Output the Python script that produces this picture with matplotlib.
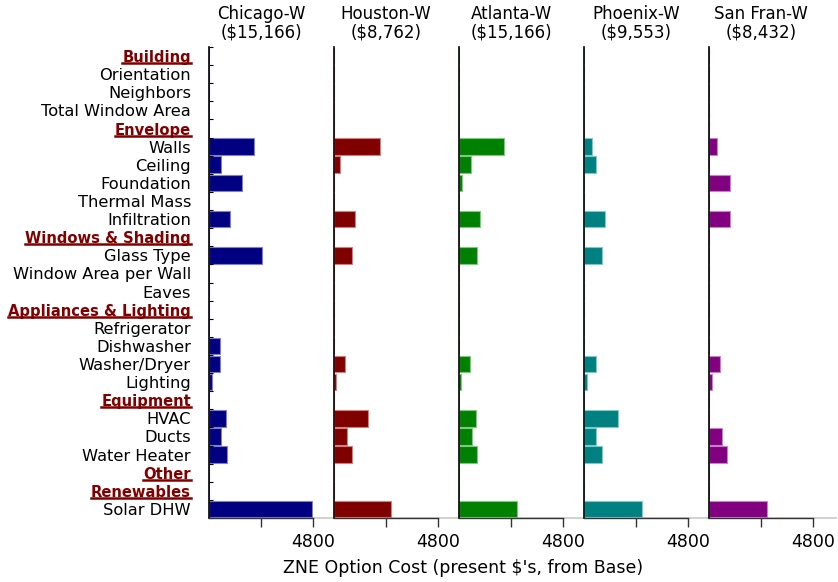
import numpy as np
import matplotlib.pyplot as plt
from matplotlib.lines import Line2D

# row labels, top to bottom; section headers are flagged
labels = ["Building", "Orientation", "Neighbors", "Total Window Area",
          "Envelope", "Walls", "Ceiling", "Foundation", "Thermal Mass", "Infiltration",
          "Windows & Shading", "Glass Type", "Window Area per Wall", "Eaves",
          "Appliances & Lighting", "Refrigerator", "Dishwasher", "Washer/Dryer", "Lighting",
          "Equipment", "HVAC", "Ducts", "Water Heater",
          "Other", "Renewables", "Solar DHW"]
headers = ["Building", "Envelope", "Windows & Shading", "Appliances & Lighting",
           "Equipment", "Other", "Renewables"]

cities = ["Chicago-W", "Houston-W", "Atlanta-W", "Phoenix-W", "San Fran-W"]
totals = ["$15,166", "$8,762", "$15,166", "$9,553", "$8,432"]
colors = ["#000080", "#800000", "#008000", "#008080", "#800080"]
edges = ["#8080c8", "#d08080", "#80c880", "#80c8c8", "#c880c8"]

# cost per row (present $), same order as labels
chicago = [0, 0, 0, 0, 0, 2090, 540, 1510, 0, 970, 0, 2460, 0, 0,
           0, 0, 490, 510, 140, 0, 790, 550, 830, 0, 0, 4750]
houston = [0, 0, 0, 0, 0, 2100, 280, 0, 0, 990, 0, 850, 0, 0,
           0, 0, 0, 530, 115, 0, 1590, 580, 850, 0, 0, 2650]
atlanta = [0, 0, 0, 0, 0, 2090, 550, 150, 0, 970, 0, 830, 0, 0,
           0, 0, 0, 510, 105, 0, 785, 585, 830, 0, 0, 2660]
phoenix = [0, 0, 0, 0, 0, 355, 550, 0, 0, 970, 0, 840, 0, 0,
           0, 0, 0, 540, 125, 0, 1585, 570, 845, 0, 0, 2660]
sanfran = [0, 0, 0, 0, 0, 355, 0, 985, 0, 970, 0, 0, 0, 0,
           0, 0, 0, 510, 125, 0, 0, 585, 830, 0, 0, 2660]
series = [chicago, houston, atlanta, phoenix, sanfran]

plt.rcParams['font.family'] = ['DejaVu Sans']

W, H = 838, 582
fig = plt.figure(figsize=(W / 100, H / 100), dpi=100)

y = np.arange(len(labels))
bottom_px, top_px = 518, 47
lefts = [209, 334, 459, 584, 709]
width_px = 104

# light baseline running under all panels
fig.add_artist(Line2D([209 / W, 836 / W], [1 - bottom_px / H] * 2, color="#c8c8c8", lw=1.2, zorder=0))

axes = []
for i, (city, tot, vals) in enumerate(zip(cities, totals, series)):
    ax = fig.add_axes([lefts[i] / W, 1 - bottom_px / H, width_px / W, (bottom_px - top_px) / H])
    ax.barh(y, vals, height=0.92, color=colors[i], edgecolor=edges[i], linewidth=0.8)
    ax.set_ylim(len(labels) - 0.5, -0.5)
    ax.set_xlim(0, 4800)
    ax.patch.set_alpha(0)
    for s in ["top", "right"]:
        ax.spines[s].set_visible(False)
    ax.spines["left"].set_color("black")
    ax.spines["left"].set_linewidth(1.2)
    ax.spines["bottom"].set_color("#333333")
    ax.spines["bottom"].set_linewidth(1.0)
    ax.set_xticks([2400, 4800])
    ax.set_xticklabels(["", "4800"], fontsize=12.5)
    ax.tick_params(axis="x", direction="out", length=6.5, width=1.0, color="#333333", pad=4)
    ax.set_title(city + "\n(" + tot + ")", fontsize=12, pad=7, linespacing=1.0)
    if i == 0:
        ax.set_yticks(y)
        ax.set_yticklabels(labels, fontsize=11.7)
        ax.tick_params(axis="y", which="major", length=0, pad=13)
        ax.set_yticks(np.arange(len(labels) + 1) - 0.5, minor=True)
        ax.tick_params(axis="y", which="minor", direction="in", length=3, width=0.8)
        for t in ax.get_yticklabels():
            if t.get_text() in headers:
                t.set_color("#800000")
                t.set_fontweight("bold")
                t.set_fontsize(10.6)
    else:
        ax.set_yticks([])
    axes.append(ax)

fig.text(463 / W, 1 - 568 / H, "ZNE Option Cost (present $'s, from Base)",
         ha="center", va="center", fontsize=12.5)

# underline the section headers
fig.canvas.draw()
for t in axes[0].get_yticklabels():
    if t.get_text() in headers:
        bb = t.get_window_extent()
        yy = (bb.y0 + 2) / H
        fig.add_artist(Line2D([bb.x0 / W, bb.x1 / W], [yy, yy], color="#800000", lw=1.8))

plt.savefig("out.png", dpi=100)
